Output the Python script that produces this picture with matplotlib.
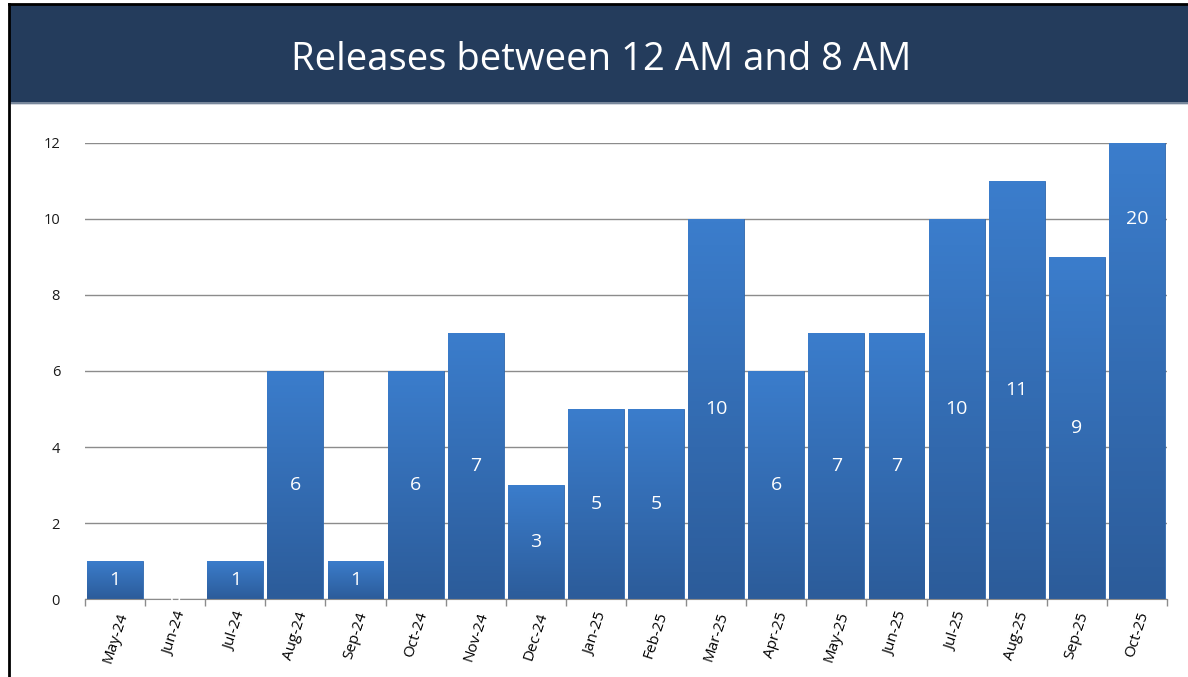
import matplotlib.pyplot as plt
from matplotlib.patches import Rectangle
from matplotlib.colors import LinearSegmentedColormap
from matplotlib.lines import Line2D
import numpy as np

plt.rcParams['font.family'] = ['Open Sans', 'DejaVu Sans']

months = ['May-24', 'Jun-24', 'Jul-24', 'Aug-24', 'Sep-24', 'Oct-24',
          'Nov-24', 'Dec-24', 'Jan-25', 'Feb-25', 'Mar-25', 'Apr-25',
          'May-25', 'Jun-25', 'Jul-25', 'Aug-25', 'Sep-25', 'Oct-25']
releases = [1, 0, 1, 6, 1, 6, 7, 3, 5, 5, 10, 6, 7, 7, 10, 11, 9, 20]
y_max = 12

fig = plt.figure(figsize=(11.88, 6.77), dpi=100)

# title banner
fig.patches.append(Rectangle((10 / 1188, 0.8479), 1.0, 0.1447,
                             transform=fig.transFigure, color='#243c5c', zorder=0))
fig.lines.append(Line2D([10 / 1188, 1], [0.8479, 0.8479], transform=fig.transFigure,
                        color='#8a97a8', lw=1.2))
fig.lines.append(Line2D([9 / 1188, 1], [0.9935, 0.9935], transform=fig.transFigure,
                        color='black', lw=2))
fig.lines.append(Line2D([9 / 1188, 9 / 1188], [0, 0.9935], transform=fig.transFigure,
                        color='black', lw=2))
fig.text(0.506, 0.912, 'Releases between 12 AM and 8 AM', color='white',
         fontsize=27.5, ha='center', va='center')

ax = fig.add_axes([0.0716, 0.1152, 0.9107, 0.6736])
x = np.arange(len(months))
bars = ax.bar(x, [min(v, y_max) for v in releases], width=0.93,
              color='#3470bb', edgecolor='#2f67ad', linewidth=0.6, zorder=2)

grad = LinearSegmentedColormap.from_list('g', ['#2c5c9a', '#3b7dcc'])
for b in bars:
    h = b.get_height()
    if h <= 0:
        continue
    im = ax.imshow(np.linspace(0, 1, 100).reshape(-1, 1), cmap=grad, origin='lower',
                   aspect='auto', zorder=2.5,
                   extent=[b.get_x(), b.get_x() + b.get_width(), 0, h])
    im.set_clip_path(b)

for xi, v in zip(x, releases):
    ax.text(xi, v / 2, str(v), color='white', fontsize=14,
            ha='center', va='center', zorder=4)

ax.set_xlim(-0.5, len(months) - 0.5)
ax.set_ylim(0, y_max)
ax.set_yticks(range(0, 13, 2))
ax.tick_params(axis='y', length=0, labelsize=10.5, pad=18, labelcolor='#1a1a1a')
ax.grid(axis='y', color='#8c8c8c', lw=1, zorder=0)
ax.set_axisbelow(True)

ax.set_xticks(x)
ax.set_xticklabels(months, rotation=72, fontsize=11, ha='center', va='top')
ax.tick_params(axis='x', length=0, pad=8)
ax.set_xticks(np.arange(-0.5, len(months)), minor=True)
ax.tick_params(axis='x', which='minor', length=5, color='#8c8c8c', width=1)

for s in ['top', 'right', 'left']:
    ax.spines[s].set_visible(False)
ax.spines['bottom'].set_color('#8c8c8c')

fig.savefig('out.png', dpi=100)
